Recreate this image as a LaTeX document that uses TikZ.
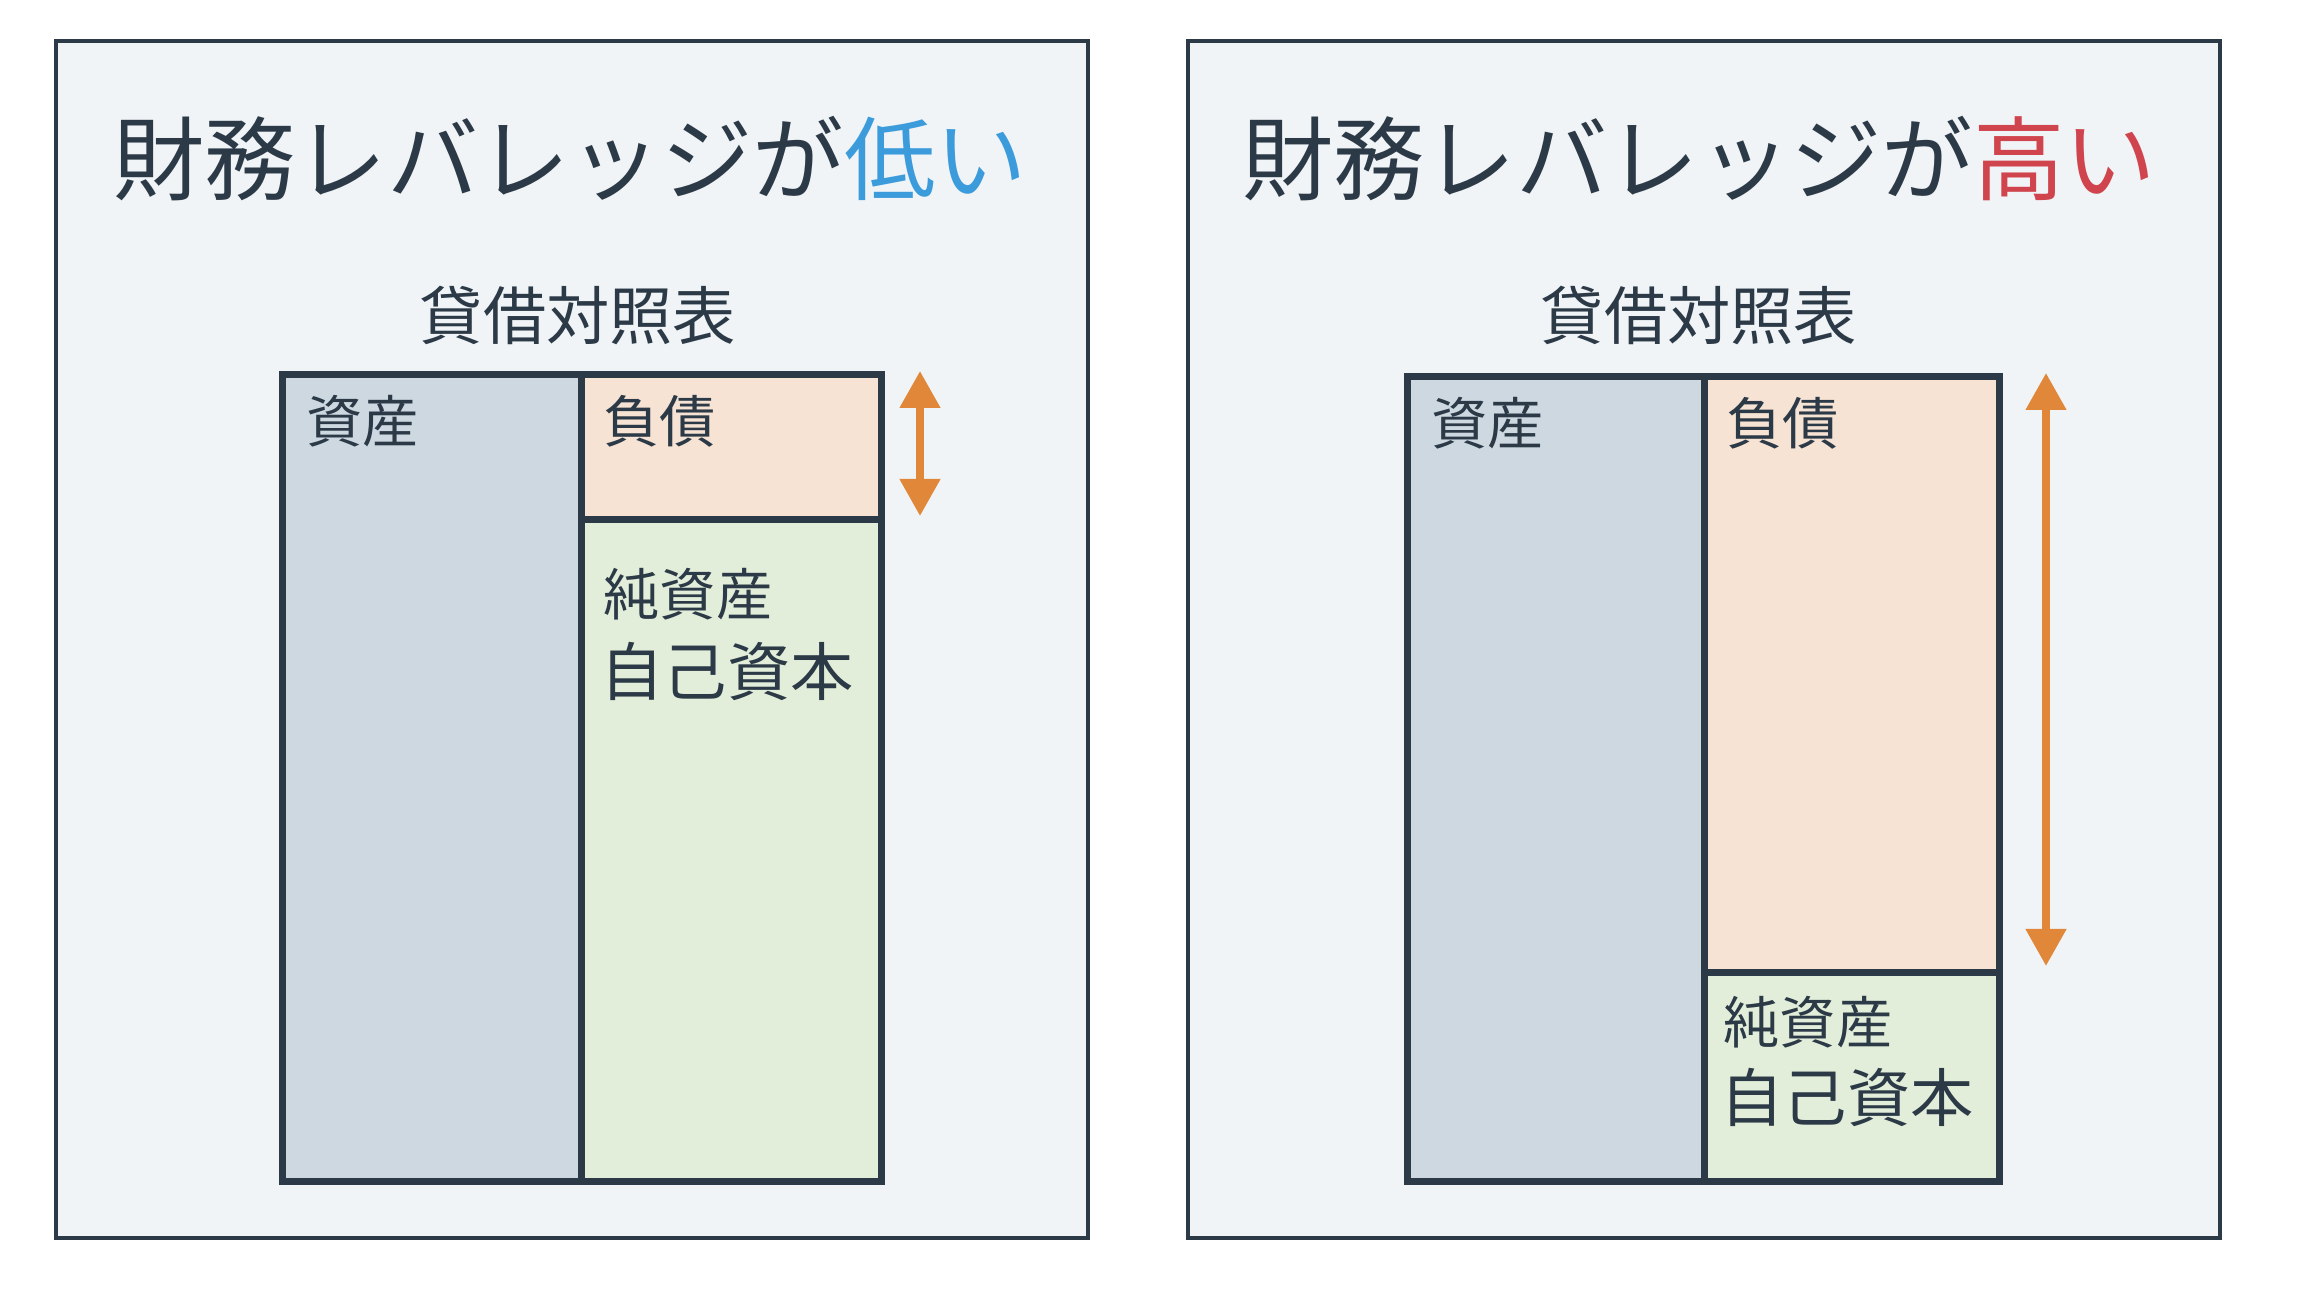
\documentclass[tikz,border=0pt]{standalone}
\usepackage{fontspec}
\setmainfont{Noto Sans CJK JP}
\usetikzlibrary{arrows.meta,calc,positioning}
\definecolor{PanelBg}{HTML}{F0F4F7}
\definecolor{Ink}{HTML}{2C3A47}
\definecolor{AssetFill}{HTML}{CDD8E1}
\definecolor{DebtFill}{HTML}{F6E3D4}
\definecolor{EquityFill}{HTML}{E2EED9}
\definecolor{LowBlue}{HTML}{3C9BDB}
\definecolor{HighRed}{HTML}{D0444E}
\definecolor{ArrowOrange}{HTML}{E0873A}

\begin{document}
\begin{tikzpicture}[every node/.style={text=Ink},panel/.style={draw=Ink,fill=PanelBg,line width=1.3pt,minimum width=10.32cm,minimum height=11.97cm,inner sep=0pt},sheetbox/.style={draw=Ink,line width=2pt,inner sep=0pt,anchor=north west},headline/.style={font=\fontsize{26}{31}\selectfont},sheettitle/.style={font=\fontsize{18}{22}\selectfont},itemlabel/.style={font=\fontsize{16}{19}\selectfont,anchor=north west,inner sep=0pt},biglabel/.style={font=\fontsize{18}{22}\selectfont,anchor=north west,inner sep=0pt},dblarrow/.style={{Triangle[length=3.7mm,width=3.9mm]}-{Triangle[length=3.7mm,width=3.9mm]},line width=2.2pt,draw=ArrowOrange}]
\useasboundingbox (0,0) rectangle (23.05,12.90);
\fill[white] (0,0) rectangle (23.05,12.90);

% low leverage
\node[panel] (panelL) at (5.72,6.505) {};
\node[headline] (titleL) at (5.70,11.31) {財務レバレッジが\textcolor{LowBlue}{低い}};
\node[sheettitle] (bsL) at (5.78,9.74) {貸借対照表};
\node[sheetbox,fill=AssetFill,minimum width=2.99cm,minimum height=8.07cm] (assetsL) at (2.79,9.19) {};
\node[sheetbox,fill=DebtFill,minimum width=3.0cm,minimum height=1.45cm] (debtL) at (5.78,9.19) {};
\node[sheetbox,fill=EquityFill,minimum width=3.0cm,minimum height=6.62cm] (equityL) at (5.78,7.74) {};
\node[itemlabel] (assetsLtxt) at ($(assetsL.north west)+(0.27,-0.24)$) {資産};
\node[itemlabel] (debtLtxt) at ($(debtL.north west)+(0.25,-0.24)$) {負債};
\node[itemlabel] (equityLtxt) at ($(equityL.north west)+(0.25,-0.52)$) {純資産};
\node[biglabel] (capitalLtxt) at ($(equityL.north west)+(0.22,-1.26)$) {自己資本};
\coordinate (arrLtop) at (9.20,9.19);
\coordinate (arrLbot) at (9.20,7.74);
\draw[dblarrow] (arrLtop) -- (arrLbot);

% high leverage
\node[panel] (panelR) at (17.04,6.505) {};
\node[headline] (titleR) at (16.99,11.31) {財務レバレッジが\textcolor{HighRed}{高い}};
\node[sheettitle] (bsR) at (16.99,9.74) {貸借対照表};
\node[sheetbox,fill=AssetFill,minimum width=2.97cm,minimum height=8.05cm] (assetsR) at (14.04,9.17) {};
\node[sheetbox,fill=DebtFill,minimum width=2.95cm,minimum height=5.96cm] (debtR) at (17.01,9.17) {};
\node[sheetbox,fill=EquityFill,minimum width=2.95cm,minimum height=2.09cm] (equityR) at (17.01,3.21) {};
\node[itemlabel] (assetsRtxt) at ($(assetsR.north west)+(0.27,-0.24)$) {資産};
\node[itemlabel] (debtRtxt) at ($(debtR.north west)+(0.25,-0.24)$) {負債};
\node[itemlabel] (equityRtxt) at ($(equityR.north west)+(0.22,-0.27)$) {純資産};
\node[biglabel] (capitalRtxt) at ($(equityR.north west)+(0.19,-0.99)$) {自己資本};
\coordinate (arrRtop) at (20.46,9.17);
\coordinate (arrRbot) at (20.46,3.24);
\draw[dblarrow] (arrRtop) -- (arrRbot);

\end{tikzpicture}
\end{document}
